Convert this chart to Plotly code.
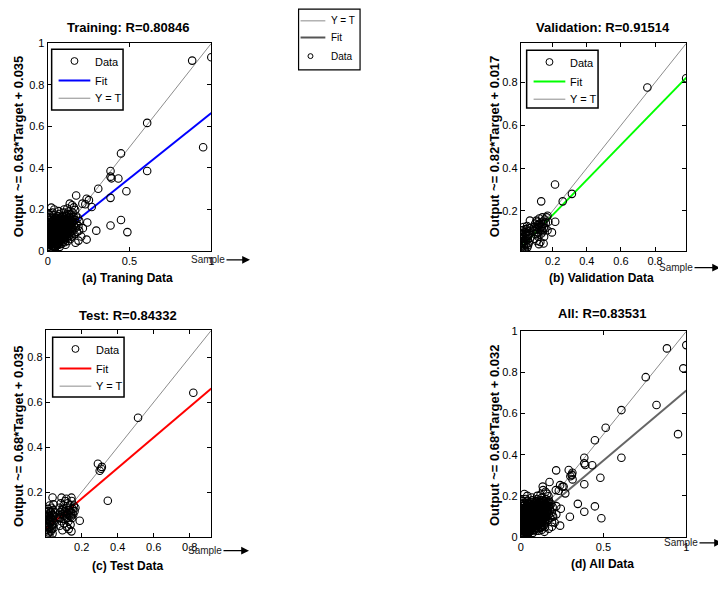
import plotly.graph_objects as go

# target picture size; the page adds an 8px body margin, so the figure is 8px smaller
W0, H0 = 726, 589
OFF = 8
W, H = W0 - OFF, H0 - OFF

# ---------------- DATA ----------------
# Training (target, output)
train_target = [
    1.000, 0.883, 0.950, 0.608, 0.608, 0.448, 0.384, 0.384, 0.390, 0.432,
    0.481, 0.309, 0.384, 0.238, 0.252, 0.269, 0.174, 0.212, 0.230, 0.384,
    0.448, 0.487, 0.297, 0.242, 0.238, 0.188, 0.192, 0.022, 0.040, 0.067,
    0.135, 0.150, 0.205, 0.170, 0.215, 0.160, 0.120, 0.100, 0.010, 0.030,
    0.005, 0.008, 0.010, 0.012, 0.014, 0.016, 0.018, 0.019, 0.021, 0.022,
    0.024, 0.025, 0.027, 0.028, 0.030, 0.031, 0.033, 0.034, 0.036, 0.037,
    0.039, 0.040, 0.042, 0.043, 0.045, 0.046, 0.048, 0.049, 0.051, 0.052,
    0.054, 0.055, 0.057, 0.058, 0.060, 0.061, 0.063, 0.064, 0.066, 0.067,
    0.069, 0.070, 0.072, 0.073, 0.075, 0.076, 0.078, 0.079, 0.081, 0.082,
    0.084, 0.085, 0.087, 0.088, 0.090, 0.091, 0.093, 0.094, 0.096, 0.097,
    0.099, 0.100, 0.102, 0.103, 0.105, 0.106, 0.108, 0.109, 0.111, 0.112,
    0.114, 0.115, 0.117, 0.118, 0.120, 0.121, 0.123, 0.124, 0.126, 0.127,
    0.129, 0.130, 0.132, 0.133, 0.135, 0.136, 0.138, 0.139, 0.141, 0.142,
    0.144, 0.145, 0.147, 0.148, 0.150, 0.152, 0.154, 0.156, 0.158, 0.160,
    0.163, 0.165, 0.168, 0.170, 0.173, 0.176, 0.180, 0.184, 0.188, 0.193,
    0.002, 0.004, 0.006, 0.009, 0.011, 0.013, 0.015, 0.017, 0.020, 0.023,
    0.026, 0.029, 0.032, 0.035, 0.038, 0.041, 0.044, 0.047, 0.050, 0.053,
    0.056, 0.059, 0.062, 0.065, 0.068, 0.071, 0.074, 0.077, 0.080, 0.083,
    0.086, 0.089, 0.092, 0.095, 0.098, 0.101, 0.104, 0.107, 0.110, 0.113,
    0.116, 0.119, 0.122, 0.125, 0.128, 0.131, 0.134, 0.137, 0.140, 0.143,
    0.007, 0.012, 0.018, 0.023, 0.029, 0.034, 0.040, 0.045, 0.051, 0.056,
    0.062, 0.067, 0.073, 0.078, 0.084, 0.089, 0.095, 0.100, 0.106, 0.111,
    0.009, 0.015, 0.021, 0.026, 0.032, 0.037, 0.043, 0.048, 0.054, 0.059,
    0.065, 0.070, 0.076, 0.081, 0.087, 0.092, 0.098, 0.103, 0.109, 0.114,
    0.003, 0.008, 0.014, 0.019, 0.025, 0.031, 0.036, 0.042, 0.047, 0.053,
    0.058, 0.064, 0.069, 0.075, 0.080, 0.086, 0.091, 0.097, 0.102, 0.108,
    0.012, 0.020, 0.028, 0.036, 0.044, 0.052, 0.060, 0.068, 0.076, 0.084,
    0.092, 0.100, 0.108, 0.116, 0.124, 0.132, 0.140, 0.148, 0.156, 0.120,
    0.006, 0.016, 0.026, 0.038, 0.048, 0.058, 0.070, 0.082, 0.094, 0.106,
    0.013, 0.024, 0.035, 0.046, 0.057, 0.068, 0.079, 0.090, 0.101, 0.112,
]
train_output = [
    0.933, 0.917, 0.500, 0.617, 0.385, 0.470, 0.385, 0.358, 0.350, 0.349,
    0.288, 0.300, 0.256, 0.252, 0.245, 0.212, 0.267, 0.228, 0.225, 0.123,
    0.149, 0.091, 0.098, 0.137, 0.055, 0.050, 0.098, 0.209, 0.200, 0.192,
    0.228, 0.220, 0.070, 0.040, 0.110, 0.210, 0.205, 0.200, 0.175, 0.185,
    0.062, 0.031, 0.095, 0.140, 0.050, 0.078, 0.012, 0.118, 0.160, 0.044,
    0.088, 0.025, 0.130, 0.068, 0.101, 0.006, 0.150, 0.055, 0.083, 0.172,
    0.036, 0.114, 0.065, 0.092, 0.018, 0.138, 0.075, 0.047, 0.105, 0.160,
    0.058, 0.085, 0.028, 0.122, 0.070, 0.098, 0.145, 0.040, 0.112, 0.080,
    0.178, 0.061, 0.128, 0.020, 0.094, 0.150, 0.052, 0.107, 0.073, 0.135,
    0.034, 0.088, 0.118, 0.165, 0.062, 0.100, 0.142, 0.045, 0.082, 0.124,
    0.185, 0.070, 0.108, 0.152, 0.055, 0.092, 0.132, 0.030, 0.116, 0.170,
    0.078, 0.103, 0.140, 0.060, 0.125, 0.158, 0.090, 0.048, 0.113, 0.190,
    0.135, 0.072, 0.100, 0.162, 0.122, 0.085, 0.148, 0.058, 0.110, 0.175,
    0.132, 0.095, 0.155, 0.070, 0.118, 0.185, 0.140, 0.100, 0.165, 0.125,
    0.082, 0.150, 0.198, 0.112, 0.170, 0.135, 0.092, 0.160, 0.120, 0.145,
    0.110, 0.020, 0.150, 0.075, 0.003, 0.125, 0.098, 0.165, 0.058, 0.108,
    0.140, 0.082, 0.038, 0.120, 0.015, 0.155, 0.090, 0.115, 0.035, 0.133,
    0.110, 0.048, 0.168, 0.090, 0.030, 0.117, 0.078, 0.162, 0.042, 0.098,
    0.150, 0.078, 0.120, 0.170, 0.095, 0.130, 0.042, 0.160, 0.088, 0.145,
    0.065, 0.178, 0.108, 0.140, 0.093, 0.178, 0.108, 0.165, 0.128, 0.080,
    0.045, 0.085, 0.030, 0.120, 0.060, 0.095, 0.140, 0.025, 0.070, 0.150,
    0.105, 0.050, 0.135, 0.085, 0.115, 0.055, 0.130, 0.100, 0.075, 0.140,
    0.125, 0.060, 0.100, 0.040, 0.075, 0.130, 0.055, 0.160, 0.090, 0.125,
    0.068, 0.145, 0.105, 0.058, 0.095, 0.155, 0.115, 0.082, 0.148, 0.120,
    0.085, 0.010, 0.110, 0.070, 0.155, 0.045, 0.110, 0.025, 0.135, 0.080,
    0.030, 0.125, 0.090, 0.065, 0.120, 0.105, 0.080, 0.150, 0.120, 0.068,
    0.160, 0.135, 0.092, 0.062, 0.098, 0.055, 0.088, 0.108, 0.128, 0.070,
    0.090, 0.115, 0.110, 0.130, 0.135, 0.120, 0.150, 0.135, 0.150, 0.150,
    0.035, 0.040, 0.110, 0.090, 0.020, 0.145, 0.040, 0.150, 0.110, 0.135,
    0.070, 0.048, 0.145, 0.068, 0.120, 0.100, 0.092, 0.140, 0.062, 0.098,
]

# Validation (target, output)
val_target = [
    0.982, 0.755, 0.214, 0.313, 0.259, 0.133, 0.215, 0.067, 0.196, 0.147, 0.170,
    0.015, 0.018, 0.020, 0.022, 0.025, 0.027, 0.030, 0.032, 0.034, 0.036,
    0.038, 0.040, 0.042, 0.045, 0.047, 0.050, 0.052, 0.055, 0.058, 0.060,
    0.063, 0.066, 0.070, 0.016, 0.024, 0.033, 0.046, 0.056,
    0.090, 0.094, 0.097, 0.100, 0.104, 0.107, 0.110, 0.113, 0.116, 0.119,
    0.122, 0.125, 0.128, 0.131, 0.134, 0.137, 0.140, 0.143, 0.146, 0.150,
    0.153, 0.157, 0.160, 0.165, 0.170, 0.175, 0.120, 0.105,
    0.014, 0.019, 0.023, 0.028, 0.031, 0.035, 0.041, 0.044, 0.049, 0.054,
    0.095, 0.101, 0.108, 0.112, 0.118, 0.124, 0.129, 0.136, 0.142, 0.148,
]
val_output = [
    0.820, 0.777, 0.324, 0.280, 0.245, 0.245, 0.150, 0.155, 0.100, 0.048, 0.178,
    0.030, 0.070, 0.110, 0.015, 0.050, 0.090, 0.125, 0.035, 0.075, 0.100,
    0.020, 0.060, 0.115, 0.045, 0.085, 0.130, 0.030, 0.068, 0.105, 0.050,
    0.092, 0.120, 0.075, 0.095, 0.060, 0.018, 0.100, 0.040,
    0.110, 0.070, 0.140, 0.090, 0.125, 0.060, 0.150, 0.100, 0.080, 0.135,
    0.165, 0.110, 0.055, 0.145, 0.095, 0.125, 0.170, 0.105, 0.140, 0.080,
    0.160, 0.120, 0.145, 0.170, 0.110, 0.150, 0.045, 0.155,
    0.055, 0.040, 0.085, 0.110, 0.060, 0.045, 0.090, 0.070, 0.115, 0.085,
    0.125, 0.115, 0.100, 0.135, 0.120, 0.140, 0.125, 0.110, 0.150, 0.120,
]

# Test (target, output)
test_target = [
    0.820, 0.513, 0.290, 0.308, 0.300, 0.312, 0.345, 0.189, 0.038, 0.088,
    0.143, 0.115, 0.143, 0.165,
    0.003, 0.006, 0.008, 0.010, 0.012, 0.014, 0.016, 0.018, 0.020, 0.022,
    0.024, 0.026, 0.028, 0.030, 0.032, 0.034, 0.036, 0.038, 0.040, 0.042,
    0.044, 0.046, 0.048, 0.050, 0.011, 0.019, 0.027, 0.035, 0.043, 0.015,
    0.072, 0.075, 0.078, 0.081, 0.084, 0.087, 0.090, 0.093, 0.096, 0.099,
    0.102, 0.105, 0.108, 0.111, 0.114, 0.117, 0.120, 0.123, 0.126, 0.129,
    0.132, 0.135, 0.138, 0.141, 0.144, 0.147, 0.150, 0.153, 0.156, 0.160,
    0.128, 0.100,
    0.005, 0.009, 0.013, 0.017, 0.021, 0.025, 0.029, 0.033, 0.037, 0.041,
    0.080, 0.088, 0.095, 0.103, 0.110, 0.118, 0.125, 0.133, 0.140, 0.148,
]
test_output = [
    0.642, 0.531, 0.326, 0.304, 0.295, 0.312, 0.161, 0.072, 0.176, 0.175,
    0.175, 0.170, 0.025, 0.130,
    0.060, 0.030, 0.100, 0.010, 0.075, 0.125, 0.045, 0.090, 0.005, 0.140,
    0.065, 0.110, 0.025, 0.085, 0.130, 0.050, 0.100, 0.015, 0.075, 0.120,
    0.040, 0.095, 0.060, 0.110, 0.050, 0.115, 0.070, 0.035, 0.145, 0.020,
    0.090, 0.130, 0.050, 0.110, 0.150, 0.070, 0.120, 0.030, 0.100, 0.140,
    0.060, 0.115, 0.160, 0.080, 0.130, 0.045, 0.105, 0.150, 0.070, 0.120,
    0.095, 0.140, 0.055, 0.110, 0.160, 0.085, 0.125, 0.100, 0.140, 0.115,
    0.035, 0.080,
    0.080, 0.055, 0.095, 0.070, 0.040, 0.090, 0.110, 0.070, 0.055, 0.095,
    0.085, 0.100, 0.125, 0.095, 0.110, 0.085, 0.100, 0.120, 0.090, 0.105,
]

# All data = union of the three sets
all_target = train_target + val_target + test_target
all_output = train_output + val_output + test_output

panel_titles = ["Training: R=0.80846", "Validation: R=0.91514",
                "Test: R=0.84332", "All: R=0.83531"]
panel_captions = ["(a) Traning Data", "(b) Validation Data",
                  "(c) Test Data", "(d) All Data"]
y_labels = ["Output ~= 0.63*Target + 0.035", "Output ~= 0.82*Target + 0.017",
            "Output ~= 0.68*Target + 0.035", "Output ~= 0.68*Target + 0.032"]
fit_slopes = [0.63, 0.82, 0.68, 0.68]
fit_intercepts = [0.035, 0.017, 0.035, 0.032]

ticks_wide = [0, 0.5, 1]
ticks_wide_text = ["0", "0.5", "1"]
ticks_y_full = [0, 0.2, 0.4, 0.6, 0.8, 1]
ticks_y_full_text = ["0", "0.2", "0.4", "0.6", "0.8", "1"]
ticks_fine = [0.2, 0.4, 0.6, 0.8]
ticks_fine_text = ["0.2", "0.4", "0.6", "0.8"]

legend_labels = ["Data", "Fit", "Y = T"]
center_legend_labels = ["Y = T", "Fit", "Data"]
sample_label = "Sample"

# ---------------- LAYOUT / STYLE ----------------
FONT = "Liberation Sans, Arial, sans-serif"
fit_colors = ["#0000FF", "#00FF00", "#FF0000", "#666666"]
yt_color = "#8c8c8c"

panels = [
    dict(box=(45, 38, 210, 250), rng=(0.0, 1.0),
         xt=(ticks_wide, ticks_wide_text), yt=(ticks_y_full, ticks_y_full_text),
         data=(train_target, train_output),
         title=(126, 22), cap=(125, 278), ylab=(15, 143),
         sample=(207, 259, 249), legend=(49, 44, 121, 106)),
    dict(box=(522, 38, 689, 250), rng=(0.013, 0.983),
         xt=(ticks_fine, ticks_fine_text), yt=(ticks_fine, ticks_fine_text),
         data=(val_target, val_output),
         title=(605, 22), cap=(603, 278), ylab=(495, 143),
         sample=(679, 267, 723), legend=(528, 45, 600, 104)),
    dict(box=(43, 331, 210, 542), rng=(0.0, 0.92),
         xt=(ticks_fine, ticks_fine_text), yt=(ticks_fine, ticks_fine_text),
         data=(test_target, test_output),
         title=(126, 316), cap=(125, 572), ylab=(15, 439),
         sample=(204, 556, 248), legend=(50, 338, 122, 399)),
    dict(box=(522, 332, 689, 542), rng=(0.0, 1.0),
         xt=(ticks_wide, ticks_wide_text), yt=(ticks_y_full, ticks_y_full_text),
         data=(all_target, all_output),
         title=(604, 314), cap=(604, 570), ylab=(495, 438),
         sample=(684, 548, 725), legend=None),
]


def px(x):
    return (x - OFF) / W


def py(y):
    return 1 - (y - OFF) / H


fig = go.Figure()
shapes = []
annotations = []
layout_axes = {}

for i, p in enumerate(panels):
    n = "" if i == 0 else str(i + 1)
    xa, ya = "x" + n, "y" + n
    x0, y0, x1, y1 = p["box"]
    lo, hi = p["rng"]
    tx, ty = p["data"]
    # Y = T line
    fig.add_trace(go.Scatter(x=[lo, hi], y=[lo, hi], mode="lines",
                             line=dict(color=yt_color, width=1),
                             xaxis=xa, yaxis=ya, showlegend=False, hoverinfo="skip"))
    # Fit line
    fig.add_trace(go.Scatter(x=[lo, hi],
                             y=[fit_slopes[i] * lo + fit_intercepts[i],
                                fit_slopes[i] * hi + fit_intercepts[i]],
                             mode="lines", line=dict(color=fit_colors[i], width=2),
                             xaxis=xa, yaxis=ya, showlegend=False, hoverinfo="skip"))
    # Data
    fig.add_trace(go.Scatter(x=tx, y=ty, mode="markers",
                             marker=dict(symbol="circle-open", size=7.5, color="black",
                                         line=dict(width=1.1, color="black")),
                             xaxis=xa, yaxis=ya, showlegend=False, cliponaxis=True))
    common = dict(showline=True, linecolor="black", linewidth=1, mirror="allticks",
                  ticks="inside", ticklen=4, tickcolor="black", showgrid=False,
                  zeroline=False, tickfont=dict(family=FONT, size=11, color="black"),
                  range=[lo, hi])
    layout_axes["xaxis" + n] = dict(common, domain=[px(x0), px(x1)], anchor=ya,
                                    tickvals=p["xt"][0], ticktext=p["xt"][1])
    layout_axes["yaxis" + n] = dict(common, domain=[py(y1), py(y0)], anchor=xa,
                                    tickvals=p["yt"][0], ticktext=p["yt"][1])

    # titles
    annotations.append(dict(x=px(p["title"][0]), y=py(p["title"][1]), xref="paper", yref="paper",
                            text="<b>%s</b>" % panel_titles[i], showarrow=False,
                            font=dict(family=FONT, size=13, color="black"),
                            xanchor="center", yanchor="middle"))
    annotations.append(dict(x=px(p["cap"][0]), y=py(p["cap"][1]), xref="paper", yref="paper",
                            text="<b>%s</b>" % panel_captions[i], showarrow=False,
                            font=dict(family=FONT, size=12, color="black"),
                            xanchor="center", yanchor="middle"))
    annotations.append(dict(x=px(p["ylab"][0]), y=py(p["ylab"][1]), xref="paper", yref="paper",
                            text="<b>%s</b>" % y_labels[i], showarrow=False, textangle=-90,
                            font=dict(family=FONT, size=13, color="black"),
                            xanchor="center", yanchor="middle"))
    sx, sy, tip = p["sample"]
    annotations.append(dict(x=px(tip), y=py(sy), xref="paper", yref="paper",
                            text=sample_label, showarrow=True, ax=sx - tip, ay=0,
                            axref="pixel", ayref="pixel", arrowhead=2, arrowsize=1.2,
                            arrowwidth=1.3, arrowcolor="black",
                            font=dict(family=FONT, size=10, color="#222222")))

    # in-panel legend
    if p["legend"]:
        lx0, ly0, lx1, ly1 = p["legend"]
        shapes.append(dict(type="rect", xref="paper", yref="paper",
                           x0=px(lx0), x1=px(lx1), y0=py(ly1), y1=py(ly0),
                           line=dict(color="black", width=1.5), fillcolor="white"))
        r = 3.5
        cx, cy = lx0 + 23, ly0 + 12
        shapes.append(dict(type="circle", xref="paper", yref="paper",
                           x0=px(cx - r), x1=px(cx + r), y0=py(cy + r), y1=py(cy - r),
                           line=dict(color="black", width=1)))
        shapes.append(dict(type="line", xref="paper", yref="paper",
                           x0=px(lx0 + 7), x1=px(lx0 + 39), y0=py(ly0 + 32), y1=py(ly0 + 32),
                           line=dict(color=fit_colors[i], width=2)))
        shapes.append(dict(type="line", xref="paper", yref="paper",
                           x0=px(lx0 + 7), x1=px(lx0 + 39), y0=py(ly0 + 50), y1=py(ly0 + 50),
                           line=dict(color=yt_color, width=1)))
        for lab, dy in zip(legend_labels, [13, 32, 50]):
            annotations.append(dict(x=px(lx0 + 42), y=py(ly0 + dy), xref="paper", yref="paper",
                                    text=lab, showarrow=False, xanchor="left", yanchor="middle",
                                    font=dict(family=FONT, size=11, color="black")))

# center legend
shapes.append(dict(type="rect", xref="paper", yref="paper",
                   x0=px(298), x1=px(360), y0=py(65), y1=py(3),
                   line=dict(color="black", width=1.2), fillcolor="white"))
shapes.append(dict(type="line", xref="paper", yref="paper",
                   x0=px(300), x1=px(325), y0=py(15), y1=py(15),
                   line=dict(color=yt_color, width=1)))
shapes.append(dict(type="line", xref="paper", yref="paper",
                   x0=px(300), x1=px(325), y0=py(32), y1=py(32),
                   line=dict(color="#555555", width=2)))
shapes.append(dict(type="circle", xref="paper", yref="paper",
                   x0=px(307.5), x1=px(312.5), y0=py(53.5), y1=py(48.5),
                   line=dict(color="black", width=1)))
for lab, yy in zip(center_legend_labels, [15, 32, 51]):
    annotations.append(dict(x=px(329), y=py(yy), xref="paper", yref="paper",
                            text=lab, showarrow=False, xanchor="left", yanchor="middle",
                            font=dict(family=FONT, size=10, color="black")))

fig.update_layout(width=W, height=H, margin=dict(l=0, r=0, t=0, b=0),
                  paper_bgcolor="white", plot_bgcolor="white", showlegend=False,
                  shapes=shapes, annotations=annotations,
                  font=dict(family=FONT, color="black"), **layout_axes)

fig.write_html("out.html")
